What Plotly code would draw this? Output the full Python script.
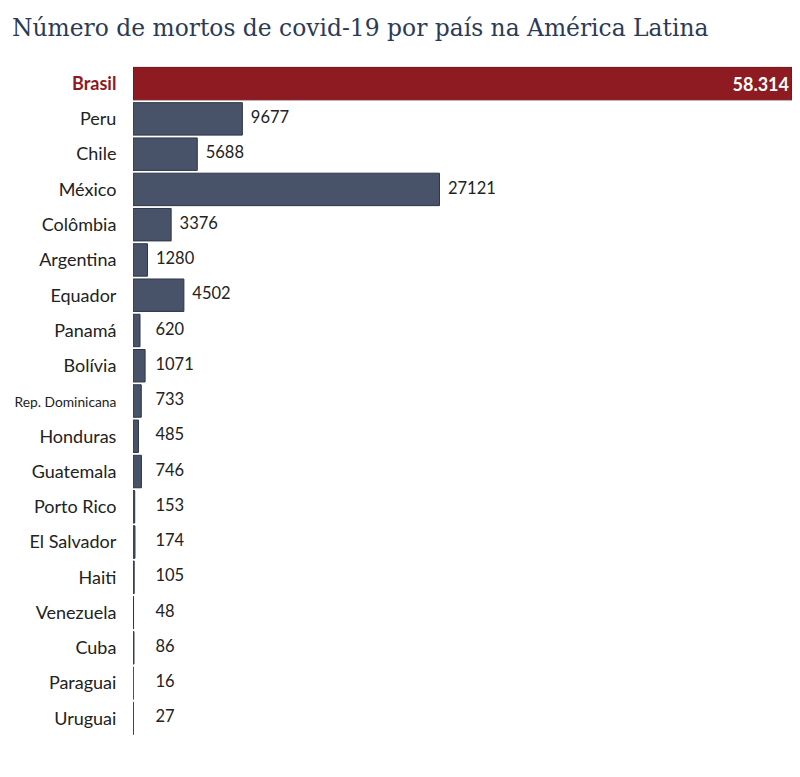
import plotly.graph_objects as go

countries = ["Brasil", "Peru", "Chile", "México", "Colômbia", "Argentina", "Equador",
             "Panamá", "Bolívia", "Rep. Dominicana", "Honduras", "Guatemala",
             "Porto Rico", "El Salvador", "Haiti", "Venezuela", "Cuba", "Paraguai", "Uruguai"]
deaths = [58314, 9677, 5688, 27121, 3376, 1280, 4502, 620, 1071, 733, 485, 746,
          153, 174, 105, 48, 86, 16, 27]
highlight = "Brasil"
label_min_x = 1240  # value labels never sit closer to the axis than this

RED = "#8e1a22"
NAVY = "#485369"
NAVY_LINE = "#2e3547"

colors = [RED if c == highlight else NAVY for c in countries]
line_colors = ["#6e1017" if c == highlight else NAVY_LINE for c in countries]
bar_texts = ["<b>" + f"{v:,}".replace(",", ".") + "</b>" if c == highlight else ""
             for c, v in zip(countries, deaths)]

out_countries = [c for c in countries if c != highlight]
out_values = [v for c, v in zip(countries, deaths) if c != highlight]
out_x = [max(v, label_min_x) for v in out_values]
out_text = ["  " + str(v) for v in out_values]

ticktext = []
for c in countries:
    if c == highlight:
        ticktext.append(f"<b><span style='color:{RED}'>{c}</span></b>")
    elif c == "Rep. Dominicana":
        ticktext.append(f"<span style='font-size:13.8px'>{c}</span>")
    else:
        ticktext.append(c)

fig = go.Figure()
fig.add_trace(go.Bar(
    x=deaths, y=countries, orientation="h",
    marker=dict(color=colors, line=dict(color=line_colors, width=1)),
    text=bar_texts, textposition="inside", insidetextanchor="end",
    textfont=dict(family="Lato", size=18, color="white"),
    cliponaxis=False, hoverinfo="x+y",
))
fig.add_trace(go.Scatter(
    x=out_x, y=out_countries, mode="text", text=out_text,
    textposition="middle right",
    textfont=dict(family="Lato", size=16.5, color="#222222"),
    cliponaxis=False, hoverinfo="skip",
))

n = len(countries)
fig.update_layout(
    width=784, height=761,
    margin=dict(l=125, r=0, t=58, b=33),
    paper_bgcolor="white", plot_bgcolor="white",
    bargap=0.08,
    showlegend=False,
    title=dict(text="Número de mortos de covid-19 por país na América Latina",
               x=4 / 784, xanchor="left", y=1 - 20 / 761, yanchor="middle",
               font=dict(family="DejaVu Serif", size=23.4, color="#2b3a55")),
    xaxis=dict(visible=False, range=[0, 58314]),
    yaxis=dict(range=[n - 0.5, -0.5], tickmode="array", tickvals=countries,
               ticktext=ticktext, ticks="outside", ticklen=12,
               tickcolor="rgba(0,0,0,0)", showgrid=False, zeroline=False,
               showline=False,
               tickfont=dict(family="Lato", size=18, color="#222222")),
)

fig.write_html("out.html")
